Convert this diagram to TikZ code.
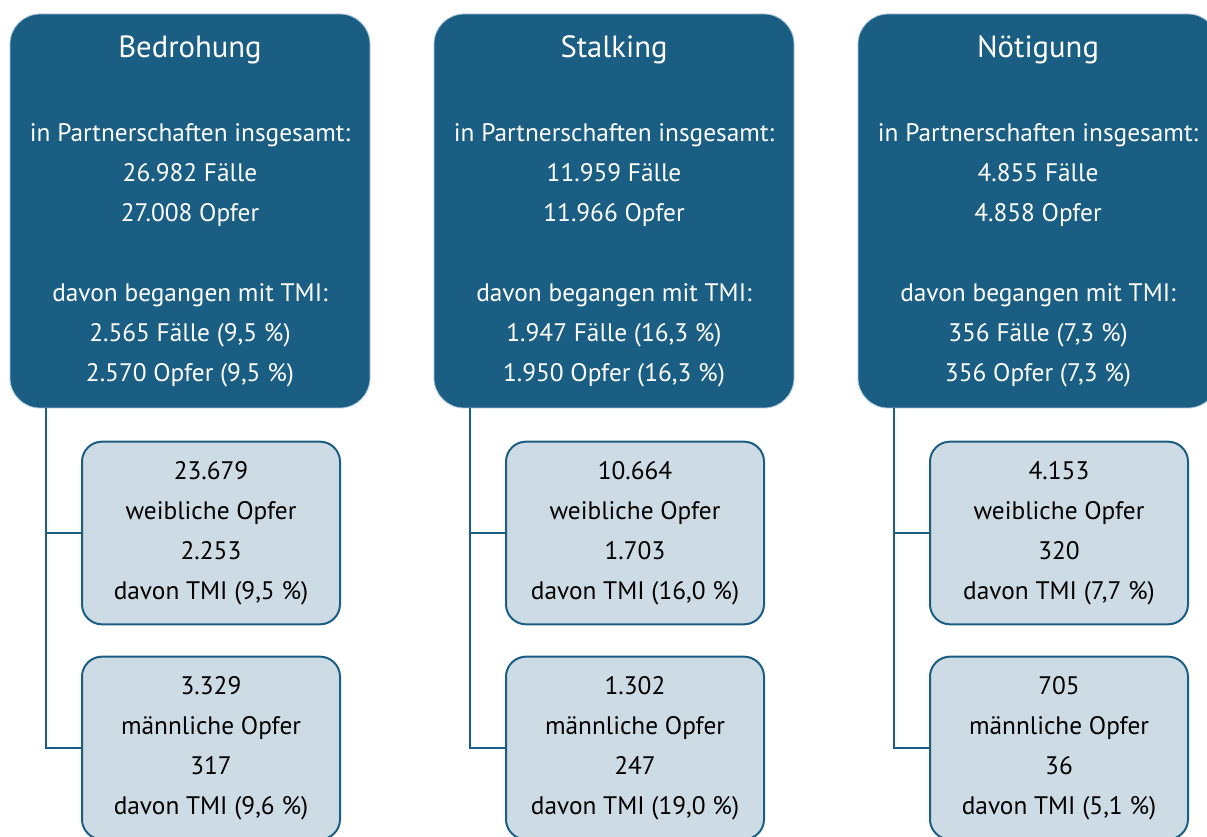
\documentclass[tikz,border=0pt]{standalone}
\usepackage{fontspec}
\setmainfont{PT Sans}
\usetikzlibrary{positioning}
\definecolor{boxblue}{RGB}{27,94,132}
\definecolor{lightblue}{RGB}{205,219,228}
\definecolor{rimblue}{RGB}{170,198,218}

\begin{document}
\begin{tikzpicture}[x=0.75pt, y=-0.75pt,
    delikt/.style={fill=boxblue, draw=rimblue, line width=0.6pt, rounded corners=22.5pt,
        text=white, minimum width=270pt, minimum height=295.5pt, inner sep=0pt,
        align=center, font=\fontsize{19}{30}\selectfont},
    opfer/.style={fill=lightblue, draw=boxblue, line width=1.5pt, rounded corners=15pt,
        minimum width=193.5pt, minimum height=137pt, inner sep=0pt,
        align=center, font=\fontsize{19}{30}\selectfont},
    ast/.style={draw=boxblue, line width=1.5pt},
    titel/.style={font=\fontsize{23}{30}\selectfont}]
    \useasboundingbox (0,0) rectangle (1207,837);

    % Bedrohung
    \node[delikt] (bed) at (190,211) {{\fontsize{23}{30}\selectfont Bedrohung}\\[33pt]
        in Partnerschaften insgesamt:\\ 26.982 Fälle\\ 27.008 Opfer\\[30pt]
        davon begangen mit TMI:\\ 2.565 Fälle (9,5~\%)\\ 2.570 Opfer (9,5~\%)};
    \node[opfer] (bedw) at (211,533) {23.679\\ weibliche Opfer\\ 2.253\\ davon TMI (9,5~\%)};
    \node[opfer] (bedm) at (211,748) {3.329\\ männliche Opfer\\ 317\\ davon TMI (9,6~\%)};
    \draw[ast] ([xshift=27pt]bed.south west) |- (bedw.west);
    \draw[ast] ([xshift=27pt]bed.south west) |- (bedm.west);

    % Stalking
    \node[delikt] (sta) at (614,211) {{\fontsize{23}{30}\selectfont Stalking}\\[33pt]
        in Partnerschaften insgesamt:\\ 11.959 Fälle\\ 11.966 Opfer\\[30pt]
        davon begangen mit TMI:\\ 1.947 Fälle (16,3~\%)\\ 1.950 Opfer (16,3~\%)};
    \node[opfer] (staw) at (635,533) {10.664\\ weibliche Opfer\\ 1.703\\ davon TMI (16,0~\%)};
    \node[opfer] (stam) at (635,748) {1.302\\ männliche Opfer\\ 247\\ davon TMI (19,0~\%)};
    \draw[ast] ([xshift=27pt]sta.south west) |- (staw.west);
    \draw[ast] ([xshift=27pt]sta.south west) |- (stam.west);

    % Nötigung
    \node[delikt] (noe) at (1038,211) {{\fontsize{23}{30}\selectfont Nötigung}\\[33pt]
        in Partnerschaften insgesamt:\\ 4.855 Fälle\\ 4.858 Opfer\\[30pt]
        davon begangen mit TMI:\\ 356 Fälle (7,3~\%)\\ 356 Opfer (7,3~\%)};
    \node[opfer] (noew) at (1059,533) {4.153\\ weibliche Opfer\\ 320\\ davon TMI (7,7~\%)};
    \node[opfer] (noem) at (1059,748) {705\\ männliche Opfer\\ 36\\ davon TMI (5,1~\%)};
    \draw[ast] ([xshift=27pt]noe.south west) |- (noew.west);
    \draw[ast] ([xshift=27pt]noe.south west) |- (noem.west);
\end{tikzpicture}
\end{document}
